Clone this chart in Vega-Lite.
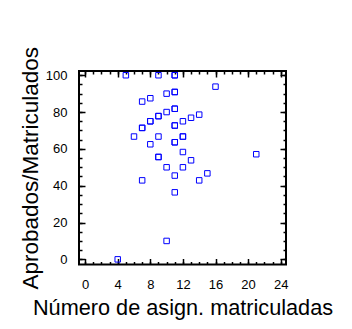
{
  "$schema": "https://vega.github.io/schema/vega-lite/v6.json",
  "width": 207,
  "height": 193.5,
  "autosize": "none",
  "padding": {"left": 79, "top": 71, "right": 66, "bottom": 64.5},
  "background": "white",
  "config": {
    "view": {"stroke": "black", "strokeWidth": 2},
    "axis": {
      "domain": false,
      "grid": false,
      "tickColor": "black",
      "tickWidth": 1.5,
      "labelFont": "Liberation Sans",
      "labelFontSize": 13,
      "labelColor": "black",
      "titleFont": "Liberation Sans",
      "titleFontWeight": "normal",
      "titleColor": "black"
    }
  },
  "data": {
    "values": [
      {"asign": 4, "ratio": 0},
      {"asign": 5, "ratio": 100},
      {"asign": 6, "ratio": 66.7},
      {"asign": 7, "ratio": 85.7},
      {"asign": 7, "ratio": 71.4},
      {"asign": 7, "ratio": 71.4},
      {"asign": 7, "ratio": 42.9},
      {"asign": 8, "ratio": 87.5},
      {"asign": 8, "ratio": 75},
      {"asign": 8, "ratio": 75},
      {"asign": 8, "ratio": 62.5},
      {"asign": 9, "ratio": 100},
      {"asign": 9, "ratio": 77.8},
      {"asign": 9, "ratio": 77.8},
      {"asign": 9, "ratio": 66.7},
      {"asign": 9, "ratio": 55.6},
      {"asign": 9, "ratio": 55.6},
      {"asign": 10, "ratio": 90},
      {"asign": 10, "ratio": 80},
      {"asign": 10, "ratio": 50},
      {"asign": 10, "ratio": 10},
      {"asign": 11, "ratio": 100},
      {"asign": 11, "ratio": 100},
      {"asign": 11, "ratio": 90.9},
      {"asign": 11, "ratio": 90.9},
      {"asign": 11, "ratio": 81.8},
      {"asign": 11, "ratio": 81.8},
      {"asign": 11, "ratio": 72.7},
      {"asign": 11, "ratio": 72.7},
      {"asign": 11, "ratio": 63.6},
      {"asign": 11, "ratio": 63.6},
      {"asign": 11, "ratio": 45.5},
      {"asign": 11, "ratio": 36.4},
      {"asign": 12, "ratio": 75},
      {"asign": 12, "ratio": 66.7},
      {"asign": 12, "ratio": 66.7},
      {"asign": 12, "ratio": 58.3},
      {"asign": 12, "ratio": 50},
      {"asign": 13, "ratio": 76.9},
      {"asign": 13, "ratio": 53.8},
      {"asign": 14, "ratio": 78.6},
      {"asign": 14, "ratio": 42.9},
      {"asign": 15, "ratio": 46.7},
      {"asign": 16, "ratio": 93.8},
      {"asign": 21, "ratio": 57.1}
    ]
  },
  "layer": [
    {
      "mark": {"type": "point", "shape": "square", "filled": false, "color": "#0000ff", "size": 30, "strokeWidth": 1, "opacity": 1},
      "encoding": {
        "x": {
          "field": "asign", "type": "quantitative",
          "scale": {"domain": [-0.75, 24.65], "nice": false, "zero": false},
          "axis": {"orient": "bottom", "values": [0, 4, 8, 12, 16, 20, 24], "tickSize": -6, "labelPadding": 20,
                   "title": "Número de asign. matriculadas", "titleFontSize": 21.7, "titlePadding": 6}
        },
        "y": {
          "field": "ratio", "type": "quantitative",
          "scale": {"domain": [-2.8, 102.3], "nice": false, "zero": false},
          "axis": {"orient": "left", "values": [0, 20, 40, 60, 80, 100], "tickSize": -6, "labelPadding": 18,
                   "title": "Aprobados/Matriculados", "titleFontSize": 22.5, "titlePadding": 3}
        }
      }
    },
    {
      "mark": {"type": "point", "opacity": 0},
      "encoding": {
        "x": {"field": "asign", "type": "quantitative",
              "axis": {"orient": "bottom", "values": [0,1,2,3,4,5,6,7,8,9,10,11,12,13,14,15,16,17,18,19,20,21,22,23,24], "tickSize": -3, "labels": false, "title": null}},
        "y": {"field": "ratio", "type": "quantitative",
              "axis": {"orient": "left", "values": [0,5,10,15,20,25,30,35,40,45,50,55,60,65,70,75,80,85,90,95,100], "tickSize": -3, "labels": false, "title": null}}
      }
    },
    {
      "mark": {"type": "point", "opacity": 0},
      "encoding": {
        "x": {"field": "asign", "type": "quantitative",
              "axis": {"orient": "top", "values": [0, 4, 8, 12, 16, 20, 24], "tickSize": -6, "labels": false, "title": null}},
        "y": {"field": "ratio", "type": "quantitative",
              "axis": {"orient": "right", "values": [0, 20, 40, 60, 80, 100], "tickSize": -6, "labels": false, "title": null}}
      }
    },
    {
      "mark": {"type": "point", "opacity": 0},
      "encoding": {
        "x": {"field": "asign", "type": "quantitative",
              "axis": {"orient": "top", "values": [0,1,2,3,4,5,6,7,8,9,10,11,12,13,14,15,16,17,18,19,20,21,22,23,24], "tickSize": -3, "labels": false, "title": null}},
        "y": {"field": "ratio", "type": "quantitative",
              "axis": {"orient": "right", "values": [0,5,10,15,20,25,30,35,40,45,50,55,60,65,70,75,80,85,90,95,100], "tickSize": -3, "labels": false, "title": null}}
      }
    }
  ],
  "resolve": {"axis": {"x": "independent", "y": "independent"}}
}
